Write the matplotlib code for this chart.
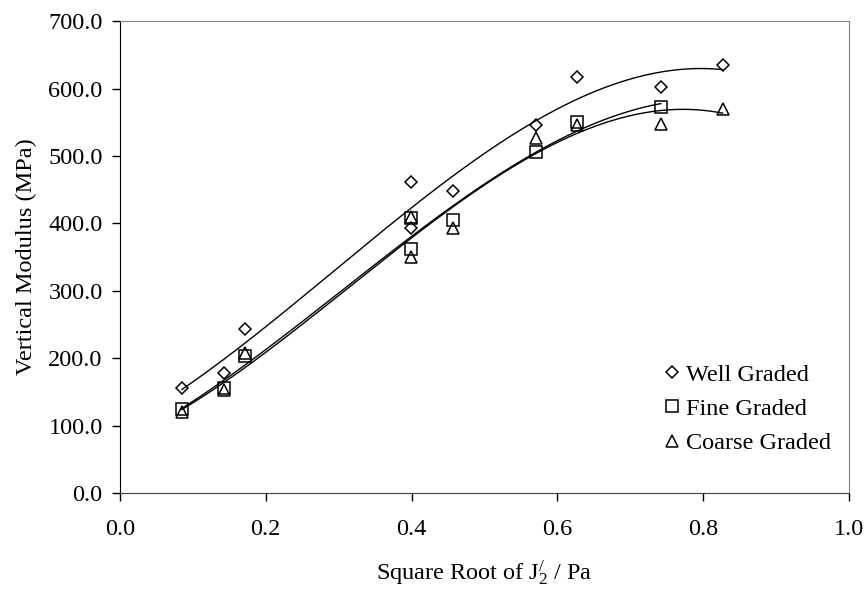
import numpy as np
import matplotlib
matplotlib.use("Agg")
import matplotlib.pyplot as plt

plt.rcParams['font.family'] = ['Liberation Serif', 'DejaVu Serif']
plt.rcParams['mathtext.fontset'] = 'custom'
plt.rcParams['mathtext.rm'] = 'Liberation Serif'
plt.rcParams['mathtext.it'] = 'Liberation Serif:italic'

# square root of J'2 / Pa
x_all = [0.085, 0.143, 0.171, 0.399, 0.399, 0.457, 0.571, 0.627, 0.742, 0.827]

well = [156, 178, 243, 461, 393, 448, 546, 617, 602, 635]
fine = [125, 156, 204, 408, 362, 405, 506, 550, 573]
coarse = [120, 153, 207, 409, 350, 393, 527, 546, 547, 570]

series = [
    ("Well Graded", x_all, well, "D", 6.5),
    ("Fine Graded", x_all[:len(fine)], fine, "s", 9),
    ("Coarse Graded", x_all, coarse, "^", 9),
]

fig, ax = plt.subplots(figsize=(8.67, 5.89), dpi=100)
fig.subplots_adjust(left=0.1384, right=0.979, top=0.964, bottom=0.163)

for name, xs, ys, mk, ms in series:
    xs = np.array(xs)
    ys = np.array(ys)
    ax.plot(xs, ys, linestyle="none", marker=mk, markersize=ms,
            markerfacecolor="none", markeredgecolor="black",
            markeredgewidth=1.1, label=name)
    # 3rd order polynomial trendline, as in the spreadsheet
    coef = np.polyfit(xs, ys, 3)
    xx = np.linspace(xs.min(), xs.max(), 200)
    ax.plot(xx, np.polyval(coef, xx), color="black", linewidth=1.0)

ax.set_xlim(0, 1.0)
ax.set_ylim(0, 700)
ax.set_xticks(np.arange(0, 1.01, 0.2))
ax.set_yticks(np.arange(0, 701, 100))
ax.xaxis.set_major_formatter(matplotlib.ticker.FormatStrFormatter('%.1f'))
ax.yaxis.set_major_formatter(matplotlib.ticker.FormatStrFormatter('%.1f'))
ax.tick_params(direction="out", length=5.5, width=1, labelsize=17.5)
ax.tick_params(axis="y", pad=7)
ax.tick_params(axis="x", pad=13)

ax.spines['top'].set_color('#808080')
ax.spines['right'].set_color('#808080')
ax.spines['bottom'].set_color('#404040')
ax.spines['left'].set_color('black')

ax.set_xlabel(r"Square Root of J$\mathregular{^{/}_{2}}$ / Pa", fontsize=17.5, labelpad=14)
ax.set_ylabel("Vertical Modulus (MPa)", fontsize=17.5, labelpad=8)

ax.legend(loc="upper left", bbox_to_anchor=(0.741, 0.274), frameon=False,
          fontsize=17.5, handletextpad=0.05, handlelength=1.0, labelspacing=0.5,
          borderaxespad=0, borderpad=0)

fig.savefig("out.png", dpi=100)
